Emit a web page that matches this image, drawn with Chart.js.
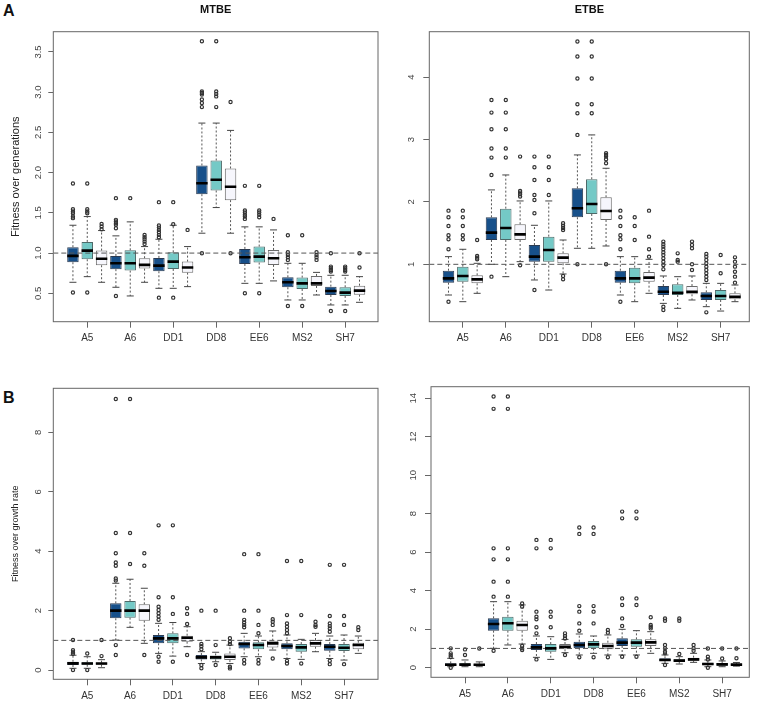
<!DOCTYPE html>
<html>
<head>
<meta charset="utf-8">
<script src="https://cdn.jsdelivr.net/npm/chart.js"></script>
<style>
  body { margin: 0; background: #fff; width: 761px; height: 704px; position: relative; overflow: hidden;
         font-family: "Liberation Sans", Arial, sans-serif; }
  canvas { position: absolute; }
  .tag { position: absolute; font-weight: bold; font-size: 16px; line-height: 1; color: #111; }
</style>
</head>
<body>
<div class="tag" style="left:3px;top:3px">A</div>
<div class="tag" style="left:3px;top:390px">B</div>
<!-- left canvases run a few px wider: point overflow forces ~8px right padding -->
<canvas id="c1" width="387" height="352" style="left:0;top:0"></canvas>
<canvas id="c3" width="387" height="352" style="left:0;top:352px"></canvas>
<canvas id="c2" width="381" height="352" style="left:380px;top:0"></canvas>
<canvas id="c4" width="381" height="352" style="left:380px;top:352px"></canvas>
<script>
const categories = ['A5', 'A6', 'DD1', 'DD8', 'EE6', 'MS2', 'SH7'];
const referenceLevel = 1;

// boxes: [lower whisker, Q1, median, Q3, upper whisker] per category
// MTBE, fitness over generations
const mtbeGenDark  = [[0.637,0.886,0.965,1.073,1.346],[0.575,0.80,0.873,0.965,1.214],[0.562,0.774,0.844,0.94,1.172],[1.247,1.732,1.869,2.089,2.616],[0.624,0.865,0.948,1.052,1.326],[0.417,0.575,0.637,0.699,0.873],[0.355,0.479,0.529,0.583,0.724]];
const mtbeGenTeal  = [[0.707,0.923,1.031,1.139,1.454],[0.467,0.782,0.873,1.035,1.388],[0.562,0.803,0.894,1.01,1.346],[1.566,1.778,1.911,2.151,2.616],[0.624,0.882,0.956,1.081,1.326],[0.417,0.554,0.624,0.695,0.873],[0.355,0.467,0.508,0.575,0.724]];
const mtbeGenWhite = [[0.637,0.849,0.93,1.031,1.28],[0.637,0.807,0.853,0.936,1.081],[0.583,0.757,0.82,0.894,1.081],[1.247,1.658,1.824,2.052,2.525],[0.654,0.853,0.936,1.039,1.288],[0.479,0.591,0.624,0.716,0.76],[0.388,0.483,0.533,0.595,0.707]];
const mtbeGenDarkOut  = [[1.865,1.546,1.517,1.496,1.454,1.434,0.51],[1.683,1.413,1.392,1.371,1.351,1.309,0.467],[1.633,1.342,1.317,1.288,1.259,1.226,1.197,0.446],[3.633,3.01,2.99,2.97,2.91,2.865,2.815,0.998],[1.836,1.529,1.504,1.475,1.454,1.425,0.5],[1.222,1.01,0.977,0.948,0.915,0.342],[0.998,0.832,0.811,0.79,0.77,0.28]];
const mtbeGenTealOut  = [[1.865,1.546,1.517,1.496,0.51],[1.683],[1.633,1.359,0.446],[3.633,3.01,2.977,2.948,2.815],[1.836,1.529,1.504,1.475,1.446,0.5],[1.222,0.342],[0.832,0.811,0.79,0.77,0.28]];
const mtbeGenWhiteOut = [[1.363,1.33,1.297],[1.226,1.197,1.172,1.143,1.114],[1.288],[2.878,0.998],[1.425],[1.01,0.977,0.948,0.915],[0.998,0.82]];

// ETBE, fitness over generations
const etbeGenDark  = [[0.508,0.706,0.775,0.898,1.123],[1.0,1.39,1.508,1.754,2.193],[0.749,1.043,1.123,1.31,1.626],[1.257,1.754,1.898,2.219,2.754],[0.508,0.706,0.775,0.898,1.123],[0.374,0.508,0.561,0.652,0.813],[0.321,0.428,0.492,0.551,0.695]];
const etbeGenTeal  = [[0.401,0.722,0.813,0.963,1.241],[0.802,1.39,1.583,1.893,2.433],[0.588,1.043,1.23,1.444,2.016],[1.257,1.807,1.968,2.364,3.075],[0.401,0.695,0.775,0.947,1.123],[0.294,0.508,0.545,0.679,0.802],[0.251,0.428,0.492,0.588,0.695]];
const etbeGenWhite = [[0.535,0.695,0.759,0.824,1.016],[1.043,1.39,1.481,1.642,2.016],[0.845,1.016,1.107,1.176,1.39],[1.294,1.711,1.856,2.075,2.54],[0.535,0.722,0.786,0.877,1.08],[0.428,0.519,0.561,0.652,0.813],[0.401,0.439,0.481,0.535,0.668]];
const etbeGenDarkOut  = [[1.861,1.754,1.615,1.465,1.401,1.241,0.401],[3.636,3.433,3.166,2.856,2.711,2.433,0.802],[2.727,2.556,2.353,2.112,2.032,1.818,0.588],[4.572,4.332,3.979,3.567,3.422,3.075,1.0],[1.861,1.754,1.615,1.465,1.401,1.241,0.401],[1.364,1.321,1.283,1.241,1.193,1.15,1.096,1.043,0.989,0.92,0.321,0.267],[1.166,1.123,1.07,1.016,0.963,0.909,0.856,0.802,0.749,0.23]];
const etbeGenTealOut  = [[1.861,1.754,1.615,1.465,1.401],[3.636,3.433,3.166,2.856,2.711],[2.727,2.556,2.353,2.112],[4.572,4.332,3.979,3.567,3.422],[1.754,1.615,1.39],[1.176,1.07,1.043],[1.15,0.856]];
const etbeGenWhiteOut = [[1.39,1.134,1.107,1.08],[2.727,2.176,2.15,2.123,2.086,0.984],[1.658,1.62,1.583,1.551,0.813,0.759],[2.78,2.754,2.727,2.684,2.62,1.0],[1.861,1.444,1.241,1.123],[1.364,1.31,1.257,1.0,0.909],[1.112,1.043,0.963,0.882,0.802,0.706]];

// MTBE, fitness over growth rate
const mtbeRateDark  = [[0.06,0.17,0.225,0.28,0.5],[1.01,1.742,2.0,2.247,2.92],[0.562,0.9,1.067,1.18,1.573],[0.22,0.36,0.427,0.506,0.62],[0.45,0.73,0.876,0.955,1.236],[0.39,0.697,0.81,0.9,1.18],[0.39,0.652,0.787,0.876,1.146]];
const mtbeRateTeal  = [[0.06,0.18,0.22,0.26,0.45],[1.438,1.764,2.0,2.326,3.056],[0.47,0.9,1.067,1.236,1.6],[0.28,0.36,0.427,0.494,0.6],[0.45,0.697,0.843,0.933,1.146],[0.36,0.618,0.764,0.876,1.034],[0.337,0.64,0.753,0.876,1.18]];
const mtbeRateWhite = [[0.08,0.18,0.22,0.25,0.35],[0.9,1.663,2.0,2.213,2.753],[0.787,0.955,1.09,1.157,1.46],[0.22,0.337,0.45,0.562,0.84],[0.674,0.764,0.9,0.989,1.315],[0.618,0.787,0.9,1.011,1.236],[0.562,0.697,0.843,0.921,1.146]];
const mtbeRateDarkOut  = [[1.01,0.67,0.6,0.55,0.0],[9.12,4.61,3.93,3.62,3.51,3.08,3.01,0.84,0.51],[4.87,2.45,2.13,2.02,1.91,1.8,1.69,0.45,0.28],[2.0,0.88,0.8,0.7,0.17,0.06],[3.9,2.0,1.69,1.6,1.52,1.44,0.34,0.22],[3.67,1.85,1.57,1.46,1.35,1.24,0.31,0.22],[3.54,1.82,1.57,1.48,1.4,1.29,0.31,0.2]];
const mtbeRateTealOut  = [[0.56,0.0],[9.12,4.61,3.57],[4.87,2.45,1.89,0.28],[2.0,0.84,0.17],[3.9,2.0,1.52,1.24,0.34,0.22],[3.67,1.85,0.22],[3.54,1.82,1.52,0.2]];
const mtbeRateWhiteOut = [[1.01,0.47],[3.93,3.51,0.51],[2.08,1.89,1.55,0.51],[1.07,0.955,0.876,0.11,0.056],[1.71,1.63,1.52,0.39],[1.63,1.52,1.46],[1.44,1.35]];

// ETBE, fitness over growth rate
const etbeRateDark  = [[0.05,0.087,0.156,0.225,0.485],[1.005,1.923,2.27,2.565,3.43],[0.537,0.918,1.057,1.23,1.646],[0.66,1.005,1.18,1.35,1.75],[0.66,1.126,1.3,1.525,1.993],[0.225,0.347,0.4,0.485,0.66],[0.05,0.12,0.19,0.25,0.4]];
const etbeRateTeal  = [[0.05,0.1,0.16,0.23,0.4],[1.18,1.923,2.305,2.651,3.43],[0.43,0.832,1.005,1.23,1.61],[0.745,1.005,1.213,1.386,1.646],[0.66,1.092,1.3,1.473,1.923],[0.19,0.312,0.364,0.433,0.572],[0.05,0.1,0.17,0.24,0.35]];
const etbeRateWhite = [[0.05,0.1,0.15,0.2,0.3],[1.23,1.923,2.218,2.443,3.26],[0.78,0.953,1.09,1.23,1.47],[0.66,0.953,1.126,1.3,1.7],[0.745,1.126,1.317,1.473,1.87],[0.277,0.364,0.433,0.52,0.745],[0.08,0.12,0.16,0.2,0.27]];
const etbeRateDarkOut  = [[1.005,0.745,0.65,0.55,0.0],[14.09,13.45,6.2,5.63,4.47,3.69,0.88],[6.64,6.2,2.91,2.65,2.51,2.1,1.785,0.43],[7.28,6.95,3.2,2.91,2.3,1.92,0.54],[8.11,7.76,3.6,3.26,2.56,2.17,0.57],[2.56,2.44,1.18,1.005,0.83,0.745,0.14],[1.0,0.57,0.43,0.0]];
const etbeRateTealOut  = [[0.95,0.66],[14.09,13.45,6.2,5.63,4.47,3.69],[6.64,6.2,2.91,2.65,2.1],[7.28,6.95,3.2,2.91,2.3,0.54],[8.11,7.76,3.6,3.26,0.57],[2.56,2.44,0.71],[1.0,0.48]];
const etbeRateWhiteOut = [[1.0],[3.34,3.17,1.126,1.005,0.92],[1.785,1.646,1.52,0.66],[1.958,1.82,0.54],[2.62,2.22,2.13,2.04],[1.18,1.005,0.88],[1.0,0.49]];

const mtbeGenTicks = [0.5, 1, 1.5, 2, 2.5, 3, 3.5];
const etbeGenTicks = [1, 2, 3, 4];
const mtbeRateTicks = [0, 2, 4, 6, 8];
const etbeRateTicks = [0, 2, 4, 6, 8, 10, 12, 14];

const FONT = '"Liberation Sans", Arial, sans-serif';
const fills = ['#17508a', '#74c9c6', '#f6f6fc'];
const edges = ['#2b3b52', '#4d6a69', '#6a6a6a'];

// three boxes per strain, evenly spaced; the tick sits on the middle one
function boxX(cat, s) { return cat * 3 + s + 1; }

function buildDatasets(boxes, outs, xMin, xMax) {
  const ds = [{
    type: 'line',
    data: [{x: xMin, y: referenceLevel}, {x: xMax, y: referenceLevel}],
    borderColor: '#555', borderWidth: 1, borderDash: [5, 3], pointRadius: 0, order: 1
  }];
  boxes.forEach((series, s) => {
    ds.push({
      type: 'bar',
      data: series.map((b, i) => ({x: boxX(i, s), y: [b[1], b[3]]})),
      backgroundColor: fills[s], borderColor: edges[s], borderWidth: 1, borderSkipped: false,
      grouped: false, categoryPercentage: 0.8, barPercentage: 1, order: 3
    });
    const whisk = [];
    series.forEach((b, i) => {
      const x = boxX(i, s);
      whisk.push({x, y: b[3]}, {x, y: b[4]}, {x, y: null}, {x, y: b[1]}, {x, y: b[0]}, {x, y: null});
    });
    ds.push({
      type: 'line', data: whisk, borderColor: '#555', borderWidth: 1, borderDash: [2, 2],
      pointRadius: 0, spanGaps: false, order: 4
    });
    const caps = [];
    series.forEach((b, i) => caps.push({x: boxX(i, s), y: b[0]}, {x: boxX(i, s), y: b[4]}));
    ds.push({
      type: 'scatter', data: caps, pointStyle: 'line', pointRadius: 3.5,
      pointBorderWidth: 1, pointBorderColor: '#444', order: 2
    });
    ds.push({
      type: 'scatter', data: series.map((b, i) => ({x: boxX(i, s), y: b[2]})),
      pointStyle: 'line', pointRadius: 5.7, pointBorderWidth: 2.6, pointBorderColor: '#000', order: 0
    });
    const pts = [];
    outs[s].forEach((list, i) => list.forEach(v => pts.push({x: boxX(i, s), y: v})));
    ds.push({
      type: 'scatter', data: pts, pointStyle: 'circle', pointRadius: 1.6,
      pointBorderWidth: 1.2, pointBorderColor: '#333', pointBackgroundColor: 'rgba(0,0,0,0)', order: 1
    });
  });
  return ds;
}

const framePlugin = {
  id: 'frame',
  afterDraw(chart) {
    const {ctx, chartArea: a} = chart;
    ctx.save();
    ctx.strokeStyle = '#666';
    ctx.lineWidth = 1;
    ctx.strokeRect(a.left, a.top, a.right - a.left, a.bottom - a.top);
    ctx.restore();
  }
};

const panels = [
  {id: 'c1', title: 'MTBE', yTitle: 'Fitness over generations', yTitleSize: 11,
   boxes: [mtbeGenDark, mtbeGenTeal, mtbeGenWhite], outs: [mtbeGenDarkOut, mtbeGenTealOut, mtbeGenWhiteOut],
   ticks: mtbeGenTicks, digits: 1, yMin: 0.147, yMax: 3.752, xMin: -0.37, xMax: 22.29,
   pad: {left: 0, right: 9, top: 0, bottom: 0}, yWidth: 53.3, xHeight: 30.3, yTickLen: 5, yPad: 3.4},
  {id: 'c2', title: 'ETBE', yTitle: '',
   boxes: [etbeGenDark, etbeGenTeal, etbeGenWhite], outs: [etbeGenDarkOut, etbeGenTealOut, etbeGenWhiteOut],
   ticks: etbeGenTicks, digits: 0, yMin: 0.08, yMax: 4.73, xMin: -0.34, xMax: 22.0,
   pad: {left: 0, right: 11.7, top: 0, bottom: 0}, yWidth: 49.3, xHeight: 30.3, yTickLen: 6, yPad: 8.8},
  {id: 'c3', title: '', yTitle: 'Fitness over growth rate', yTitleSize: 9,
   boxes: [mtbeRateDark, mtbeRateTeal, mtbeRateWhite], outs: [mtbeRateDarkOut, mtbeRateTealOut, mtbeRateWhiteOut],
   ticks: mtbeRateTicks, digits: 0, yMin: -0.31, yMax: 9.48, xMin: -0.38, xMax: 22.38,
   pad: {left: 0, right: 9, top: 36.3, bottom: 0}, yWidth: 53.3, xHeight: 24.7, yTickLen: 5, yPad: 7.4},
  {id: 'c4', title: '', yTitle: '',
   boxes: [etbeRateDark, etbeRateTeal, etbeRateWhite], outs: [etbeRateDarkOut, etbeRateTealOut, etbeRateWhiteOut],
   ticks: etbeRateTicks, digits: 0, yMin: -0.5, yMax: 14.6, xMin: -0.38, xMax: 21.9,
   pad: {left: 0, right: 11.7, top: 34.7, bottom: 0}, yWidth: 51, xHeight: 26.7, yTickLen: 6, yPad: 6.1}
];

panels.forEach(p => {
  new Chart(document.getElementById(p.id), {
    type: 'bar',
    data: {datasets: buildDatasets(p.boxes, p.outs, p.xMin, p.xMax)},
    options: {
      responsive: false,
      animation: false,
      events: [],
      layout: {padding: p.pad},
      plugins: {
        legend: {display: false},
        tooltip: {enabled: false},
        title: {
          display: !!p.title, text: p.title, fullSize: false, color: '#111',
          font: {family: FONT, size: 11, weight: 'bold'}, padding: {top: 3, bottom: 15.5}
        }
      },
      scales: {
        x: {
          type: 'linear', min: p.xMin, max: p.xMax, bounds: 'data', offset: false,
          afterBuildTicks: sc => { sc.ticks = categories.map((c, i) => ({value: boxX(i, 1)})); },
          afterFit: sc => { sc.height = p.xHeight; },
          ticks: {
            autoSkip: false, minRotation: 0, maxRotation: 0, padding: 5, color: '#333',
            font: {family: FONT, size: 10},
            callback: v => categories[Math.round((v - 2) / 3)]
          },
          grid: {offset: false, drawOnChartArea: false, drawTicks: true, tickLength: 6, color: '#666'},
          border: {display: false}
        },
        y: {
          type: 'linear', min: p.yMin, max: p.yMax, bounds: 'data',
          afterBuildTicks: sc => { sc.ticks = p.ticks.map(v => ({value: v})); },
          afterFit: sc => { sc.width = p.yWidth; },
          ticks: {
            autoSkip: false, minRotation: 90, maxRotation: 90, crossAlign: 'center',
            padding: p.yPad, color: '#444', font: {family: FONT, size: 9.5},
            callback: v => v.toFixed(p.digits)
          },
          grid: {drawOnChartArea: false, drawTicks: true, tickLength: p.yTickLen, color: '#666'},
          border: {display: false},
          title: {
            display: !!p.yTitle, text: p.yTitle, color: '#222',
            font: {family: FONT, size: p.yTitleSize || 11},
            padding: {top: 15.8 - (p.yTitleSize || 11) * 0.6, bottom: 0}
          }
        }
      }
    },
    plugins: [framePlugin]
  });
});
</script>
</body>
</html>
